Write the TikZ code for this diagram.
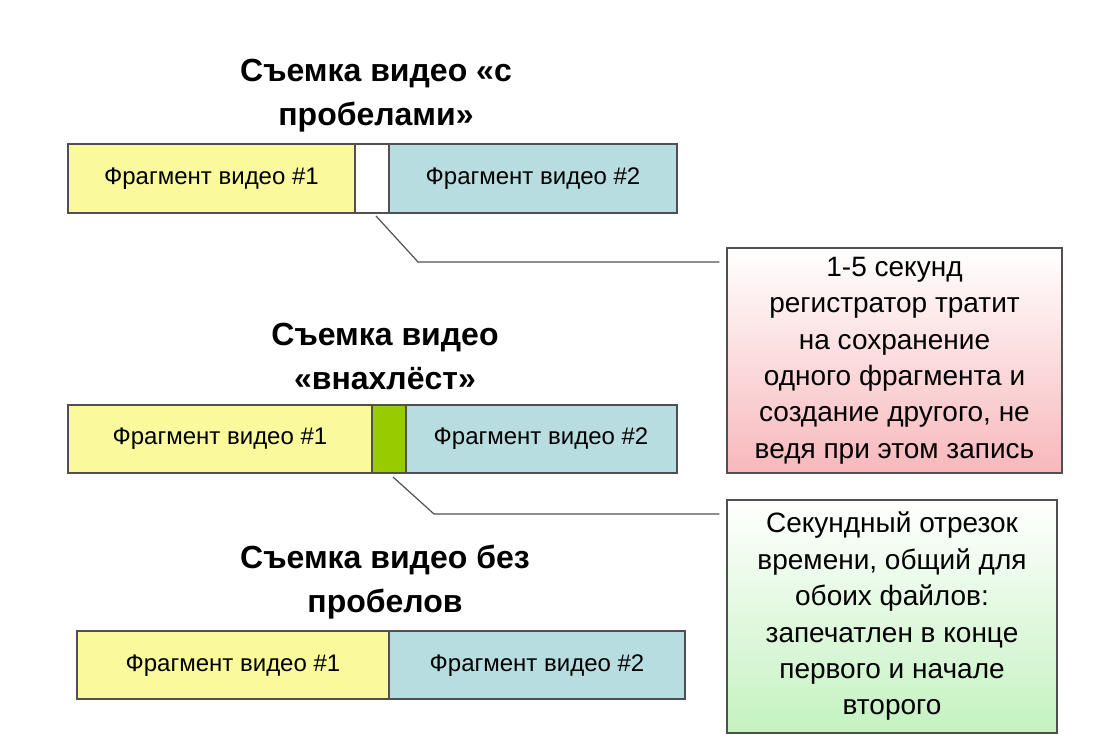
\documentclass[tikz,border=0pt]{standalone}
\usepackage{fontspec}
\setmainfont{Liberation Sans}
\usetikzlibrary{positioning}
\definecolor{fragyellow}{HTML}{FAFA9C}
\definecolor{fragblue}{HTML}{B8DDE1}
\definecolor{overlapgreen}{HTML}{99CC00}
\definecolor{notepink}{HTML}{F8B8BC}
\definecolor{notegreen}{HTML}{C4F2C0}
\definecolor{edgegray}{HTML}{505050}

\begin{document}
\begin{tikzpicture}[x=0.5pt, y=-0.5pt,
  seg/.style={draw=edgegray, line width=0.6pt},
  fragtext/.style={font=\fontsize{12}{14}\selectfont},
  headline/.style={font=\bfseries\fontsize{16}{22}\selectfont, align=center},
  notebox/.style={draw=edgegray, line width=0.6pt, font=\fontsize{14}{18.2}\selectfont, align=center},
  leader/.style={draw=edgegray, line width=0.6pt}]
  \useasboundingbox (0,0) rectangle (1102,742);

  % with gaps
  \node[headline] (headA) at (376,96) {Съемка видео «с\\пробелами»};
  \filldraw[seg, fill=fragyellow] (68,144) rectangle (355,213);
  \filldraw[seg, fill=white] (355,144) rectangle (389,213);
  \filldraw[seg, fill=fragblue] (389,144) rectangle (677,213);
  \node[fragtext] (fragA1) at (211.5,179) {Фрагмент видео \#1};
  \node[fragtext] (fragA2) at (533,179) {Фрагмент видео \#2};
  \coordinate (gapA) at (376,216);

  % overlapping
  \node[headline] (headB) at (385,356) {Съемка видео\\«внахлёст»};
  \filldraw[seg, fill=fragyellow] (68,405) rectangle (372,473);
  \filldraw[seg, fill=overlapgreen] (372,405) rectangle (406,473);
  \filldraw[seg, fill=fragblue] (406,405) rectangle (677,473);
  \node[fragtext] (fragB1) at (220,439) {Фрагмент видео \#1};
  \node[fragtext] (fragB2) at (541,439) {Фрагмент видео \#2};
  \coordinate (gapB) at (393,477);

  % without gaps
  \node[headline] (headC) at (385,582) {Съемка видео без\\пробелов};
  \filldraw[seg, fill=fragyellow] (77,631) rectangle (389,699);
  \filldraw[seg, fill=fragblue] (389,631) rectangle (685,699);
  \node[fragtext] (fragC1) at (233,666) {Фрагмент видео \#1};
  \node[fragtext] (fragC2) at (537,666) {Фрагмент видео \#2};

  % notes
  \shade[top color=white, bottom color=notepink] (727,248) rectangle (1062,473);
  \node[notebox, minimum width=167.5pt, minimum height=112.5pt] (noteA) at (894.5,360.5)
    {1-5 секунд\\регистратор тратит\\на сохранение\\одного фрагмента и\\создание другого, не\\ведя при этом запись};
  \shade[top color=white, bottom color=notegreen] (727,500) rectangle (1057,733);
  \node[notebox, minimum width=165pt, minimum height=116.5pt] (noteB) at (892,616.5)
    {Секундный отрезок\\времени, общий для\\обоих файлов:\\запечатлен в конце\\первого и начале\\второго};

  \draw[leader] (gapA) -- (418,262) -- ([xshift=-3.5pt]noteA.west |- 0,262);
  \draw[leader] (gapB) -- (434,514) -- ([xshift=-3.5pt]noteB.west |- 0,514);
\end{tikzpicture}
\end{document}
